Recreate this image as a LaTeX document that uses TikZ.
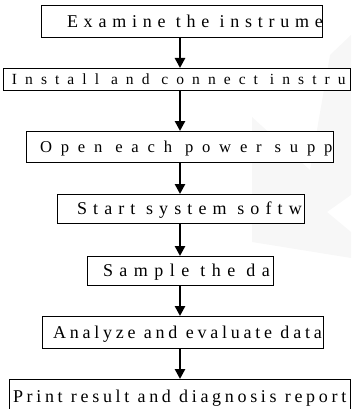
\documentclass[tikz,border=0pt]{standalone}
\usepackage{fontspec}
\setmainfont{Liberation Serif}
\usetikzlibrary{arrows.meta}
\newcommand{\steplabel}[3]{{\fontsize{#1pt}{#1pt}\selectfont\addfontfeatures{LetterSpace=#2}#3}}
\begin{document}
\begin{tikzpicture}[x=1pt,y=-1pt,
  stepbox/.style={draw=black, line width=0.9pt, fill=white, inner sep=0pt, outer sep=0pt},
  steptext/.style={inner sep=0pt, outer sep=0pt, anchor=base west},
  flow/.style={line width=2.6pt, -{Triangle[length=10pt,width=10pt]}},
]
\useasboundingbox (0,0) rectangle (351,409);
\fill[gray!6] (252,117) -- (310,170) -- (330,55) -- (351,35) -- (351,195) -- (327,212) -- (351,232) -- (351,258) -- (252,242) -- cycle;
\coordinate (axis) at (180,0);
\node[stepbox, minimum width=281pt, minimum height=32pt] (b1) at (181.5,21) {};
\node[stepbox, minimum width=347pt, minimum height=22pt] (b2) at (176.5,79) {};
\node[stepbox, minimum width=307pt, minimum height=31pt] (b3) at (179.5,146.5) {};
\node[stepbox, minimum width=247pt, minimum height=29pt] (b4) at (180.5,208.5) {};
\node[stepbox, minimum width=186pt, minimum height=29pt] (b5) at (180,270.5) {};
\node[stepbox, minimum width=281pt, minimum height=32pt] (b6) at (182.5,332) {};
\node[stepbox, minimum width=341pt, minimum height=42pt] (b7) at (179.5,400) {};
\begin{scope}
\clip (b1.south west) rectangle (b1.north east);
\node[steptext] (t1) at (67,27.5) {\steplabel{18}{32}{Examine the instrument}};
\end{scope}
\begin{scope}
\clip (b2.south west) rectangle (b2.north east);
\node[steptext] (t2) at (12,84.5) {\steplabel{15.5}{52}{Install and connect instrument}};
\end{scope}
\begin{scope}
\clip (b3.south west) rectangle (b3.north east);
\node[steptext] (t3) at (40,152) {\steplabel{16.6}{53}{Open each power supply}};
\end{scope}
\begin{scope}
\clip (b4.south west) rectangle (b4.north east);
\node[steptext] (t4) at (77,214.5) {\steplabel{18}{34}{Start system software}};
\end{scope}
\begin{scope}
\clip (b5.south west) rectangle (b5.north east);
\node[steptext] (t5) at (103,276.5) {\steplabel{18}{36}{Sample the data}};
\end{scope}
\begin{scope}
\clip (b6.south west) rectangle (b6.north east);
\node[steptext] (t6) at (53,338) {\steplabel{18}{21}{Analyze and evaluate data}};
\end{scope}
\begin{scope}
\clip (b7.south west) rectangle (b7.north east);
\node[steptext] (t7) at (13,402) {\steplabel{18}{20.5}{Print result and diagnosis report}};
\end{scope}
\draw[flow] (b1.south -| axis) -- (b2.north -| axis);
\draw[flow] (b2.south -| axis) -- (b3.north -| axis);
\draw[flow] (b3.south -| axis) -- (b4.north -| axis);
\draw[flow] (b4.south -| axis) -- (b5.north -| axis);
\draw[flow] (b5.south -| axis) -- (b6.north -| axis);
\draw[flow] (b6.south -| axis) -- (b7.north -| axis);
\end{tikzpicture}
\end{document}
